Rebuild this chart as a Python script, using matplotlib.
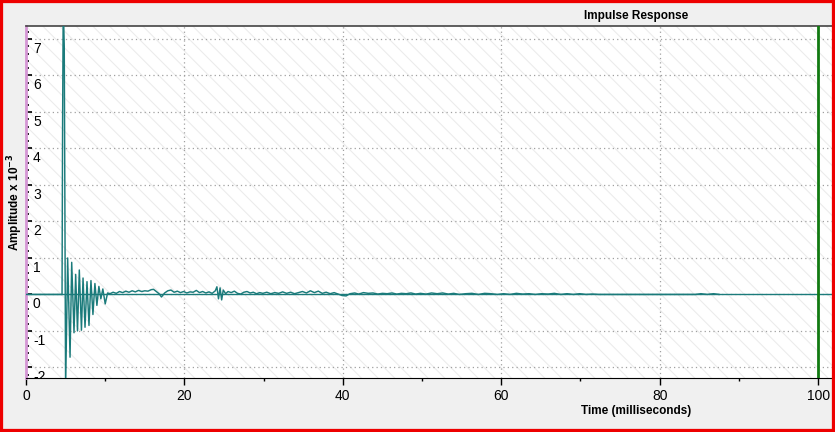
import matplotlib
matplotlib.use("Agg")
import matplotlib.pyplot as plt
import matplotlib.transforms as mtransforms
from matplotlib.patches import Rectangle
from matplotlib.ticker import MultipleLocator

plt.rcParams['font.family'] = ['Liberation Sans', 'DejaVu Sans']
plt.rcParams['hatch.linewidth'] = 0.8
plt.rcParams['axes.unicode_minus'] = False

# early part: direct sound + ringing (time in ms, amplitude x 1e-3)
ring_t = [0.0, 4.55, 4.62, 4.70, 4.83, 5.00, 5.26, 5.56, 5.77, 6.06, 6.27, 6.50,
          6.73, 7.00, 7.20, 7.45, 7.70, 7.95, 8.20, 8.45, 8.70, 8.95, 9.20, 9.45,
          9.70, 10.0, 10.3]
ring_amp = [0.0, 0.0, 4.7, 8.0, 6.8, -2.6, 1.0, -1.72, 0.88, -1.05, 0.55, -1.0,
            0.67, -0.98, 0.45, -0.9, 0.35, -0.85, 0.38, -0.55, 0.3, -0.3, 0.22, -0.12,
            0.15, -0.26, 0.04]

# decaying tail
tail_t = [10.6, 11.0, 11.4, 11.8, 12.2, 12.6, 13.0, 13.4, 13.8, 14.2, 14.6, 15.0,
          15.4, 15.8, 16.1, 16.5, 16.8, 17.1, 17.5, 17.9, 18.3, 18.7, 19.1, 19.5,
          19.9, 20.3, 20.7, 21.1, 21.5, 21.9, 22.3, 22.7, 23.1, 23.5, 23.9, 24.1,
          24.3, 24.5, 24.7, 24.9, 25.2, 25.5, 25.9, 26.3, 26.7, 27.1, 27.5, 27.9,
          28.3, 28.7, 29.1, 29.5, 29.9, 30.4, 30.9, 31.4, 31.9, 32.4, 32.9, 33.4,
          33.9, 34.4, 34.9, 35.4, 35.9, 36.4, 36.9, 37.4, 37.9, 38.4, 38.9, 39.4,
          39.9, 40.4, 40.9, 41.5, 42.0, 42.6, 43.2, 43.8, 44.4, 45.0, 45.6, 46.2,
          46.8, 47.4, 48.0, 48.6, 49.2, 49.8, 50.5, 51.2, 51.9, 52.6, 53.3, 54.0,
          54.7, 55.5, 56.3, 57.1, 57.9, 58.7, 59.5, 60.3, 61.1, 61.9, 62.7, 63.5,
          64.3, 65.1, 65.9, 66.7, 67.5, 68.3, 69.1, 69.9, 70.7, 71.5, 72.3, 73.0,
          84.5, 85.2, 86.0, 86.8, 87.5]
tail_amp = [0.02, 0.06, 0.03, 0.08, 0.05, 0.09, 0.06, 0.10, 0.07, 0.11, 0.08, 0.10,
            0.09, 0.13, 0.14, 0.07, 0.02, -0.07, 0.04, 0.10, 0.12, 0.06, 0.09, 0.05,
            0.08, 0.04, 0.07, 0.06, 0.11, 0.05, 0.08, 0.04, 0.07, 0.03, 0.10, 0.21,
            -0.12, 0.18, -0.15, 0.12, 0.02, 0.08, 0.05, 0.09, 0.03, 0.01, 0.06, 0.08,
            0.04, 0.06, 0.02, 0.05, 0.03, 0.06, 0.02, 0.05, 0.03, 0.07, 0.03, 0.06,
            0.02, 0.05, 0.08, 0.04, 0.10, 0.05, 0.09, 0.03, 0.06, 0.02, 0.05, 0.01,
            -0.03, -0.04, 0.02, 0.04, 0.01, 0.05, 0.03, 0.04, 0.01, 0.03, 0.02, 0.04,
            0.01, 0.03, 0.02, 0.04, 0.01, 0.03, 0.01, 0.04, 0.02, 0.04, 0.01, 0.03,
            0.00, 0.02, 0.03, 0.00, 0.03, 0.02, 0.00, 0.02, 0.00, 0.03, 0.01, 0.02,
            0.00, 0.02, 0.01, 0.03, 0.00, 0.02, 0.00, 0.02, 0.00, 0.01, 0.00, 0.0,
            0.0, 0.02, 0.0, 0.02, 0.0]

marker_ms = 100  # green cursor line

x_ticks = [0, 20, 40, 60, 80, 100]
y_ticks = [-2, -1, 0, 1, 2, 3, 4, 5, 6, 7]

teal = '#1b7b7b'

fig = plt.figure(figsize=(8.35, 4.32), dpi=100, facecolor='#f0f0f0')
ax = fig.add_axes([26/835, 54/432, 806/835, 352.5/432])
ax.set_facecolor('white')

# diagonal hatch background
ax.add_patch(Rectangle((0, 0), 1, 1, transform=ax.transAxes, facecolor='none',
                       edgecolor='#ececec', hatch='\\\\', lw=0, zorder=0))

ax.set_xlim(0, 101.75)
ax.set_ylim(-2.29, 7.37)

ax.grid(True, which='major', color='#a0a0a0', linestyle=(0, (1, 2.5)), lw=0.9, zorder=1)
ax.set_axisbelow(True)

ax.axhline(0, color=teal, lw=1.0, zorder=2)
ax.plot(ring_t + tail_t, ring_amp + tail_amp, color=teal, lw=1.05, zorder=3)
ax.axvline(marker_ms, color='#127a12', lw=2.0, zorder=4)

ax.set_xticks(x_ticks)
ax.set_yticks(y_ticks)
ax.xaxis.set_minor_locator(MultipleLocator(10))
ax.yaxis.set_minor_locator(MultipleLocator(0.2))
ax.tick_params(axis='x', which='major', direction='out', length=5, width=1, labelsize=10, pad=3)
ax.tick_params(axis='x', which='minor', direction='out', length=2, width=1)
ax.tick_params(axis='y', which='major', direction='in', length=4.3, width=1.2, labelsize=10, pad=-5)
ax.tick_params(axis='y', which='minor', direction='in', length=2.2, width=1.2)

# y labels sit inside the plot, just under their tick, clipped by the frame
shift = mtransforms.ScaledTranslation(0, -2/72, fig.dpi_scale_trans)
for lab in ax.get_yticklabels():
    lab.set_horizontalalignment('left')
    lab.set_verticalalignment('top')
    lab.set_transform(lab.get_transform() + shift)
    lab.set_clip_on(True)
    lab.set_clip_box(ax.bbox)

ax.spines['right'].set_visible(False)
ax.spines['left'].set_color('#d496d4')
ax.spines['left'].set_linewidth(2)
ax.spines['top'].set_color('#444444')
ax.spines['top'].set_linewidth(1.2)
ax.spines['bottom'].set_color('black')

fig.text(636/835, 1 - 16/432, 'Impulse Response', ha='center', va='center',
         fontsize=8.5, fontweight='bold')
fig.text(636/835, 1 - 411/432, 'Time (milliseconds)', ha='center', va='center',
         fontsize=8.5, fontweight='bold')
fig.text(15/835, 1 - 202/432, r'Amplitude x 10$^{\mathbf{-3}}$', ha='center', va='center',
         rotation=90, fontsize=8.5, fontweight='bold')

# red frame round the whole window
fig.patches.append(Rectangle((0, 0), 1, 1, transform=fig.transFigure, fill=False,
                             edgecolor='#ee0000', lw=4.5))

fig.savefig('out.png', dpi=100, facecolor=fig.get_facecolor())
